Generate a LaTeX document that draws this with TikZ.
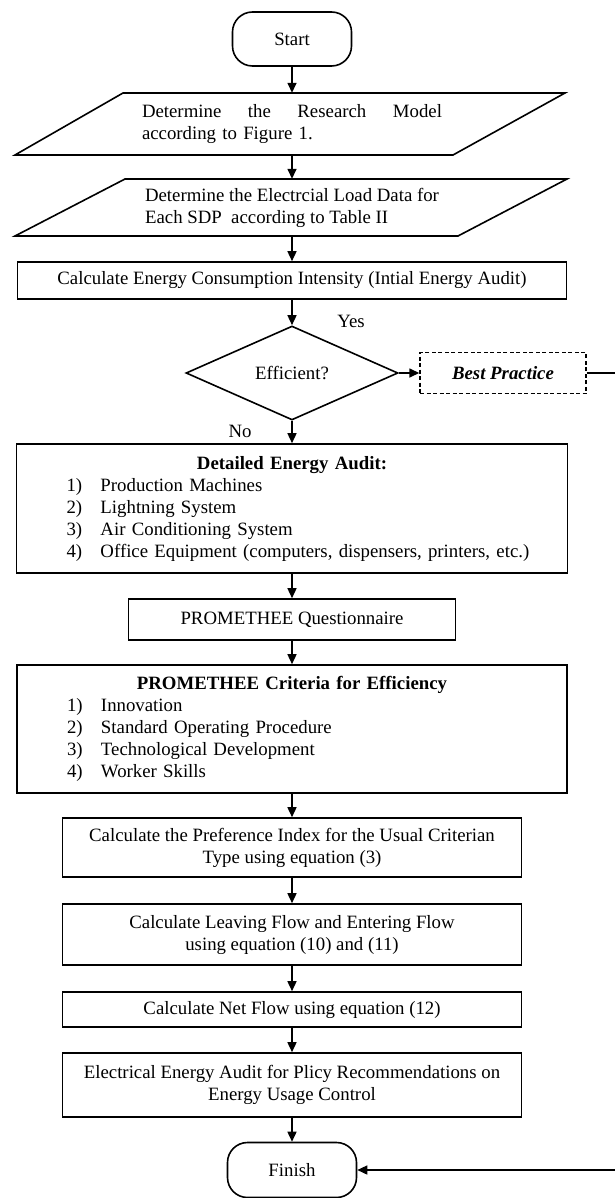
\documentclass[tikz,border=0pt]{standalone}
\usepackage{fontspec}
\setmainfont{Liberation Serif}
\usetikzlibrary{shapes.geometric,arrows.meta}
\setlength{\parindent}{0pt}

\providecommand{\Item}[2]{\hspace*{50pt}\makebox[34pt][l]{#1)}#2\par}

\tikzset{
txt/.style={inner sep=0pt,font=\fontsize{18.8}{22}\selectfont},
box/.style={txt,draw,line width=1.6pt,align=center},
term/.style={box,rounded corners=20pt,minimum height=54},
dia/.style={txt,diamond,draw,line width=1.6pt,minimum width=212,minimum height=94},
arr/.style={line width=1.5pt,-{Triangle[length=10pt,width=9pt]}}
}

\begin{document}
\begin{tikzpicture}[x=1pt,y=-1pt]
\useasboundingbox (0,0) rectangle (614,1198);
\node[term,minimum width=119] (start) at (292,39) {Start};
\draw[line width=1.6pt] (15,155) -- (123,93) -- (565,93) -- (453,155) -- cycle;
\node[txt,align=left,text width=300pt,minimum height=62] (model) at (292,124) {Determine\hfill the\hfill Research\hfill Model\\according to Figure 1.};
\draw[line width=1.6pt] (15,236) -- (125,179) -- (567,179) -- (458,236) -- cycle;
\node[txt,align=left,minimum height=57] (load) at (292,207.5) {Determine the Electrcial Load Data for\\Each SDP\ \ according to Table II};
\node[box,minimum width=549,minimum height=37] (intensity) at (292,280.5) {Calculate Energy Consumption Intensity (Intial Energy Audit)};
\node[dia] (efficient) at (292,373) {Efficient?};
\node[txt] (yes) at (351,321) {Yes};
\node[box,dashed,dash pattern=on 4pt off 2.5pt,line width=1.4pt,minimum width=166,minimum height=41] (best) at (503,373) {\textbf{\textit{Best Practice}}};
\node[txt] (no) at (240,431) {No};
\node[box,align=left,text width=551pt,minimum height=129] (audit) at (292,508.5) {{\centering\textbf{Detailed Energy Audit:}\par}
\Item{1}{Production Machines}
\Item{2}{Lightning System}
\Item{3}{Air Conditioning System}
\Item{4}{Office Equipment (computers, dispensers, printers, etc.)}};
\node[box,minimum width=327,minimum height=41] (quest) at (292,619.5) {PROMETHEE Questionnaire};
\node[box,align=left,text width=550pt,minimum height=128] (criteria) at (292,729) {{\centering\textbf{PROMETHEE Criteria for Efficiency}\par}
\Item{1}{Innovation}
\Item{2}{Standard Operating Procedure}
\Item{3}{Technological Development}
\Item{4}{Worker Skills}};
\node[box,minimum width=459,minimum height=59] (pref) at (292,847.5) {Calculate the Preference Index for the Usual Criterian\\Type using equation (3)};
\node[box,minimum width=459,minimum height=61] (flow) at (292,934.5) {Calculate Leaving Flow and Entering Flow\\using equation (10) and (11)};
\node[box,minimum width=459,minimum height=35] (net) at (292,1009.5) {Calculate Net Flow using equation (12)};
\node[box,minimum width=459,minimum height=64] (policy) at (292,1085) {Electrical Energy Audit for Plicy Recommendations on\\Energy Usage Control};
\node[term,minimum width=129,minimum height=55] (finish) at (292,1170) {Finish};
\coordinate (rim) at (640,373);

\draw[arr] (start) -- (model);
\draw[arr] (model) -- (load);
\draw[arr] (load) -- (intensity);
\draw[arr] (intensity) -- (efficient);
\draw[arr] (efficient) -- (best);
\draw[arr] (efficient) -- (audit);
\draw[arr] (audit) -- (quest);
\draw[arr] (quest) -- (criteria);
\draw[arr] (criteria) -- (pref);
\draw[arr] (pref) -- (flow);
\draw[arr] (flow) -- (net);
\draw[arr] (net) -- (policy);
\draw[arr] (policy) -- (finish);
\draw[arr] (best.east) -- (rim) |- (finish.east);
\end{tikzpicture}
\end{document}
